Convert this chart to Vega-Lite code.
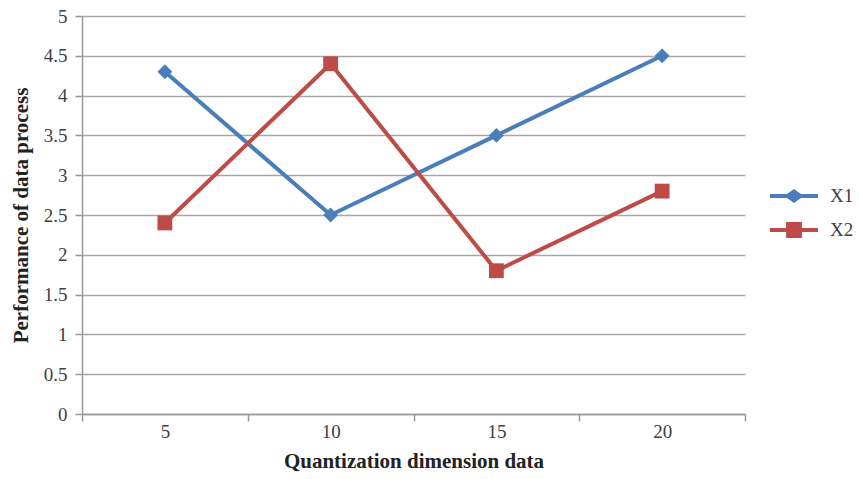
{
  "$schema": "https://vega.github.io/schema/vega-lite/v6.json",
  "width": 663,
  "height": 398,
  "autosize": {"type": "none"},
  "padding": {"left": 82, "top": 16, "right": 114, "bottom": 65},
  "background": "white",
  "config": {
    "view": {"stroke": null},
    "font": "Liberation Serif",
    "axis": {"labelFont": "Liberation Serif", "titleFont": "Liberation Serif", "labelColor": "#404040", "titleColor": "#222222"}
  },
  "data": {
    "values": [
      {"x": "5", "series": "X1", "v": 4.3},
      {"x": "10", "series": "X1", "v": 2.5},
      {"x": "15", "series": "X1", "v": 3.5},
      {"x": "20", "series": "X1", "v": 4.5},
      {"x": "5", "series": "X2", "v": 2.4},
      {"x": "10", "series": "X2", "v": 4.4},
      {"x": "15", "series": "X2", "v": 1.8},
      {"x": "20", "series": "X2", "v": 2.8}
    ]
  },
  "encoding": {
    "x": {
      "field": "x", "type": "ordinal", "sort": ["5", "10", "15", "20"],
      "scale": {"type": "band", "paddingInner": 0, "paddingOuter": 0},
      "axis": {
        "title": "Quantization dimension data", "titleFontSize": 21, "titleFontWeight": "bold", "titlePadding": 9,
        "labelAngle": 0, "labelFontSize": 19, "labelPadding": 1,
        "tickBand": "extent", "tickSize": 7, "tickColor": "#999999", "domainColor": "#999999", "domainWidth": 1.5, "tickWidth": 1.5,
        "grid": false
      }
    },
    "y": {
      "field": "v", "type": "quantitative",
      "scale": {"domain": [0, 5], "nice": false},
      "axis": {
        "title": "Performance of data process", "titleFontSize": 21, "titleFontWeight": "bold", "titlePadding": 12,
        "values": [0, 0.5, 1, 1.5, 2, 2.5, 3, 3.5, 4, 4.5, 5], "format": ".1~f",
        "labelFontSize": 19, "labelPadding": 8,
        "tickSize": 7, "tickColor": "#999999", "domainColor": "#999999", "domainWidth": 1.5, "tickWidth": 1.5,
        "grid": true, "gridColor": "#a6a6a6", "gridWidth": 1.5
      }
    },
    "color": {
      "field": "series", "type": "nominal",
      "scale": {"domain": ["X1", "X2"], "range": ["#4a7ebb", "#be4b48"]},
      "legend": {
        "title": null, "orient": "none", "legendX": 688, "legendY": 156,
        "labelFontSize": 19, "labelFont": "Liberation Serif", "labelColor": "#404040",
        "symbolSize": 2304, "symbolStrokeWidth": 0, "rowPadding": -16, "labelOffset": 12,
        "encode": {
          "symbols": {
            "update": {
              "shape": {"signal": "datum.value === 'X1' ? 'M-1,-0.083H-0.29L0,-0.29L0.29,-0.083H1V0.083H0.29L0,0.29L-0.29,0.083H-1Z' : 'M-1,-0.083H-0.33V-0.33H0.33V-0.083H1V0.083H0.33V0.33H-0.33V0.083H-1Z'"},
              "strokeWidth": {"value": 0}
            }
          }
        }
      }
    }
  },
  "layer": [
    {"mark": {"type": "line", "strokeWidth": 4}},
    {
      "mark": {"type": "point", "filled": true, "opacity": 1, "size": 220},
      "encoding": {
        "shape": {"condition": {"test": "datum.series === 'X1'", "value": "diamond"}, "value": "square"}
      }
    }
  ]
}
